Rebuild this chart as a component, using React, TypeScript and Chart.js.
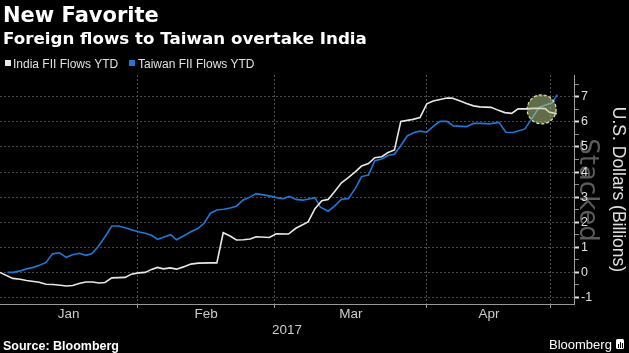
import React, { useEffect, useRef } from 'react';
import { Chart, registerables } from 'chart.js';

Chart.register(...registerables);

// ---- Data (day of year 2017, Jan 1 = 0) ----
const indiaDays = [3.0, 5.6, 7.1, 8.4, 11.0, 12.4, 13.9, 16.6, 17.8, 19.3, 20.5, 21.9, 23.2, 24.4, 25.8, 28.5, 29.8, 31.2, 32.6, 33.9, 35.1, 36.3, 37.7, 39.0, 40.4, 41.9, 43.4, 45.8, 47.2, 48.5, 49.9, 51.2, 52.6, 54.0, 55.2, 57.9, 59.3, 61.8, 63.3, 65.8, 67.2, 68.6, 69.9, 71.3, 72.6, 74.0, 75.4, 76.7, 78.1, 79.4, 80.8, 82.1, 83.4, 84.7, 87.2, 88.6, 90.0, 91.3, 92.7, 94.1, 95.1, 96.4, 98.1, 99.5, 100.8, 103.1, 104.6, 105.9, 107.3, 108.6, 110.4, 111.7, 113.1, 114.1, 115.0, 116.5];
const indiaValues = [0.0, -0.24, -0.27, -0.32, -0.39, -0.47, -0.48, -0.54, -0.52, -0.43, -0.38, -0.38, -0.42, -0.40, -0.22, -0.20, -0.07, -0.02, 0.0, 0.12, 0.20, 0.14, 0.18, 0.13, 0.22, 0.33, 0.37, 0.38, 0.38, 1.58, 1.45, 1.29, 1.30, 1.33, 1.42, 1.39, 1.54, 1.53, 1.76, 2.01, 2.54, 2.86, 2.91, 3.25, 3.57, 3.78, 4.01, 4.24, 4.34, 4.57, 4.61, 4.78, 4.88, 6.02, 6.10, 6.17, 6.72, 6.83, 6.89, 6.95, 6.95, 6.86, 6.73, 6.64, 6.60, 6.58, 6.46, 6.37, 6.34, 6.52, 6.52, 6.54, 6.54, 6.53, 6.38, 6.33];

const taiwanDays = [4.5, 5.7, 7.1, 8.4, 9.8, 11.0, 12.4, 13.7, 15.1, 16.5, 17.8, 19.2, 20.5, 21.7, 23.0, 24.4, 25.8, 27.1, 28.5, 29.8, 31.2, 32.6, 33.9, 35.1, 36.3, 37.8, 39.0, 40.4, 41.8, 43.4, 44.6, 45.9, 47.2, 48.6, 49.9, 51.2, 52.5, 53.9, 55.2, 56.7, 58.0, 59.4, 60.7, 62.0, 63.3, 64.7, 67.2, 68.3, 69.9, 71.3, 72.6, 74.0, 75.4, 76.7, 78.1, 79.4, 80.8, 82.1, 83.4, 84.6, 86.0, 87.4, 88.6, 90.0, 91.3, 92.7, 94.1, 95.4, 98.1, 99.5, 101.2, 102.7, 104.7, 106.1, 107.6, 110.0, 111.6, 112.9, 114.1, 115.5, 116.6];
const taiwanValues = [0.0, 0.0, 0.06, 0.14, 0.20, 0.28, 0.40, 0.74, 0.78, 0.60, 0.70, 0.76, 0.68, 0.74, 1.02, 1.42, 1.85, 1.85, 1.78, 1.70, 1.62, 1.56, 1.48, 1.32, 1.40, 1.50, 1.30, 1.45, 1.61, 1.76, 1.96, 2.36, 2.49, 2.52, 2.57, 2.64, 2.88, 3.00, 3.14, 3.09, 3.04, 2.98, 2.94, 3.03, 2.91, 2.88, 2.98, 2.60, 2.44, 2.66, 2.92, 2.94, 3.34, 3.82, 3.88, 4.45, 4.52, 4.66, 4.71, 5.03, 5.44, 5.58, 5.63, 5.59, 5.82, 6.02, 6.02, 5.84, 5.81, 5.94, 5.94, 5.92, 5.98, 5.59, 5.58, 5.72, 6.19, 6.58, 6.66, 6.76, 7.09];

const seriesNames = ['India FII Flows YTD', 'Taiwan FII Flows YTD'];
const seriesColors = ['#e8e8e8', '#1f78d4'];

const monthLabels = ['Jan', 'Feb', 'Mar', 'Apr'];
const monthBounds = [3, 31, 59, 90, 115.3];
const monthMids = monthLabels.map((_, i) => (monthBounds[i] + monthBounds[i + 1]) / 2);
const yearLabel = '2017';

const yTickValues = [-1, 0, 1, 2, 3, 4, 5, 6, 7];
const yMinorTicks = yTickValues.flatMap((v) => [v, v + 0.5]);

const X_MIN = 3;
const X_MAX = 120;
const Y_MIN = -1.26;
const Y_MAX = 7.87;

const highlight = { day: 113.4, value: 6.5, radius: 14.5 };

const SANS = '"Liberation Sans", Arial, sans-serif';
const DEJAVU = '"DejaVu Sans", sans-serif';

const bgPlugin = {
  id: 'bgStacked',
  beforeDraw(chart: any) {
    const { ctx, width, height } = chart;
    ctx.save();
    ctx.fillStyle = '#000';
    ctx.fillRect(0, 0, width, height);
    ctx.translate(580, 190);
    ctx.rotate(Math.PI / 2);
    ctx.font = '26px ' + DEJAVU;
    ctx.fillStyle = '#5a5a5a';
    ctx.textAlign = 'center';
    ctx.textBaseline = 'alphabetic';
    ctx.fillText('Stacked', 0, 0);
    ctx.restore();
  },
};

const circlePlugin = {
  id: 'highlightCircle',
  afterDatasetsDraw(chart: any) {
    const { ctx } = chart;
    const x = chart.scales.x.getPixelForValue(highlight.day);
    const y = chart.scales.y.getPixelForValue(highlight.value);
    ctx.save();
    ctx.beginPath();
    ctx.arc(x, y, highlight.radius, 0, Math.PI * 2);
    ctx.fillStyle = 'rgba(190, 208, 140, 0.52)';
    ctx.fill();
    ctx.setLineDash([3, 2]);
    ctx.strokeStyle = '#dfe6a6';
    ctx.lineWidth = 1.2;
    ctx.stroke();
    ctx.restore();
  },
};

export default function App() {
  const ref = useRef<HTMLCanvasElement>(null);

  useEffect(() => {
    if (!ref.current) return;
    const chart = new Chart(ref.current, {
      type: 'line',
      data: {
        datasets: [
          {
            label: seriesNames[0],
            data: indiaDays.map((d, i) => ({ x: d, y: indiaValues[i] })),
            borderColor: seriesColors[0],
            backgroundColor: seriesColors[0],
            borderWidth: 1.6,
            pointRadius: 0,
            tension: 0,
            xAxisID: 'x',
            yAxisID: 'y',
          },
          {
            label: seriesNames[1],
            data: taiwanDays.map((d, i) => ({ x: d, y: taiwanValues[i] })),
            borderColor: seriesColors[1],
            backgroundColor: seriesColors[1],
            borderWidth: 1.6,
            pointRadius: 0,
            tension: 0,
            xAxisID: 'x',
            yAxisID: 'y',
          },
        ],
      },
      options: {
        animation: false,
        responsive: false,
        layout: { padding: { top: 75, left: 0, right: 0, bottom: 0 } },
        plugins: {
          legend: { display: false },
          tooltip: { enabled: false },
        },
        scales: {
          xg: {
            type: 'linear',
            position: 'bottom',
            weight: 0,
            min: X_MIN,
            max: X_MAX,
            afterBuildTicks: (s: any) => {
              s.ticks = monthBounds.slice(1).map((v) => ({ value: v }));
            },
            ticks: { display: false },
            grid: { color: '#555555', drawTicks: false, lineWidth: 1 },
            border: { display: false, dash: [2, 2] },
            afterFit: (s: any) => {
              s.height = 0;
            },
          },
          x: {
            type: 'linear',
            position: 'bottom',
            weight: 1,
            min: X_MIN,
            max: X_MAX,
            afterBuildTicks: (s: any) => {
              s.ticks = [...monthBounds.slice(1), ...monthMids]
                .sort((a, b) => a - b)
                .map((v) => ({ value: v }));
            },
            ticks: {
              autoSkip: false,
              maxRotation: 0,
              minRotation: 0,
              padding: -2,
              color: '#cccccc',
              font: { family: SANS, size: 13.5 },
              callback: (v: any) => {
                const i = monthMids.indexOf(v);
                return i >= 0 ? monthLabels[i] : '';
              },
            },
            grid: {
              drawOnChartArea: false,
              drawTicks: true,
              tickLength: 4,
              tickColor: (ctx: any) =>
                ctx.tick && monthMids.includes(ctx.tick.value) ? 'rgba(0,0,0,0)' : '#999999',
            },
            border: { display: true, color: '#999999', width: 1 },
            title: {
              display: true,
              text: yearLabel,
              color: '#cccccc',
              font: { family: SANS, size: 13.5 },
              padding: { top: 0, bottom: 15 },
            },
            afterFit: (s: any) => {
              s.height = 49;
            },
          },
          yg: {
            type: 'linear',
            position: 'right',
            weight: 0,
            min: Y_MIN,
            max: Y_MAX,
            afterBuildTicks: (s: any) => {
              s.ticks = yTickValues.map((v) => ({ value: v }));
            },
            ticks: { display: false },
            grid: { color: '#4a4a4a', drawTicks: false, lineWidth: 1 },
            border: { display: false, dash: [2, 2] },
            afterFit: (s: any) => {
              s.width = 0;
            },
          },
          y: {
            type: 'linear',
            position: 'right',
            weight: 1,
            min: Y_MIN,
            max: Y_MAX,
            afterBuildTicks: (s: any) => {
              s.ticks = yMinorTicks.filter((v) => v >= Y_MIN && v <= Y_MAX).map((v) => ({ value: v }));
            },
            ticks: {
              autoSkip: false,
              padding: 2,
              color: '#e0e0e0',
              font: { family: SANS, size: 12.5 },
              callback: (v: any) => (Number.isInteger(v) ? String(v) : ''),
            },
            grid: {
              drawOnChartArea: false,
              drawTicks: true,
              tickLength: 5,
              tickColor: (ctx: any) =>
                ctx.tick && Number.isInteger(ctx.tick.value) ? '#e0e0e0' : '#8a8a8a',
              tickWidth: (ctx: any) => (ctx.tick && Number.isInteger(ctx.tick.value) ? 2 : 1),
            },
            border: { display: true, color: '#a0a0a0', width: 1 },
            title: {
              display: true,
              text: 'U.S. Dollars (Billions)',
              color: '#e0e0e0',
              font: { family: SANS, size: 17.5 },
              padding: { top: 1, bottom: 0 },
            },
            afterFit: (s: any) => {
              s.width = 55;
            },
          },
        },
      },
      plugins: [bgPlugin, circlePlugin],
    } as any);
    return () => chart.destroy();
  }, []);

  const abs = (o: React.CSSProperties): React.CSSProperties => ({ position: 'absolute', whiteSpace: 'nowrap', ...o });

  return (
    <div style={{ position: 'fixed', left: 0, top: 0, width: 629, height: 353, background: '#000', overflow: 'hidden' }}>
      <canvas ref={ref} width={629} height={353} style={{ position: 'absolute', left: 0, top: 0, width: 629, height: 353 }} />
      <div style={abs({ left: 3, top: 4.5, font: `bold 21px/21px ${DEJAVU}`, color: '#ffffff' })}>New Favorite</div>
      <div style={abs({ left: 3, top: 30.4, font: `bold 16.7px/16.7px ${DEJAVU}`, color: '#ffffff' })}>
        Foreign flows to Taiwan overtake India
      </div>
      <div style={abs({ left: 5, top: 60, width: 6, height: 6, background: seriesColors[0] })} />
      <div style={abs({ left: 13, top: 58, font: `12px/12px ${SANS}`, color: '#e0e0e0' })}>{seriesNames[0]}</div>
      <div style={abs({ left: 129, top: 60, width: 6, height: 6, background: seriesColors[1] })} />
      <div style={abs({ left: 138, top: 58, font: `12px/12px ${SANS}`, color: '#e0e0e0' })}>{seriesNames[1]}</div>
      <div style={abs({ left: 3, top: 340.4, font: `bold 12.5px/12.5px ${SANS}`, color: '#ffffff' })}>Source: Bloomberg</div>
      <div style={abs({ left: 549, top: 338, font: `13px/13px ${SANS}`, color: '#ffffff' })}>Bloomberg</div>
      <div style={abs({ left: 616, top: 339, width: 8, height: 10, background: '#ffffff', borderRadius: 1.5 })}>
        <div style={abs({ left: 1.5, top: 5, width: 1.2, height: 4, background: '#000' })} />
        <div style={abs({ left: 3.5, top: 3, width: 1.2, height: 6, background: '#000' })} />
        <div style={abs({ left: 5.5, top: 4, width: 1.2, height: 5, background: '#000' })} />
      </div>
    </div>
  );
}
